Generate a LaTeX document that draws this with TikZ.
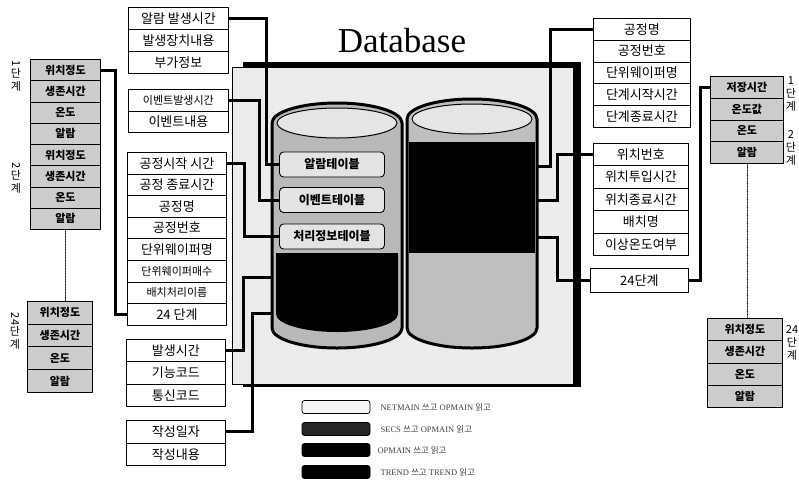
\documentclass[tikz,border=0pt]{standalone}
\usepackage{fontspec}
\setmainfont{Liberation Serif}
\newfontfamily\kr{Noto Sans CJK KR}
\usetikzlibrary{positioning, calc}

\begin{document}
\begin{tikzpicture}[x=1pt, y=-1pt, line cap=round, line join=round]

	\useasboundingbox (0,0) rectangle (799,485);

	\tikzset{
		field/.style={draw, fill=white, line width=0.8pt, inner sep=0pt, anchor=north west, font=\kr\fontsize{13}{13}\selectfont},
		stage/.style={field, fill=gray!40, font=\kr\bfseries\fontsize{11}{11}\selectfont},
		tbl/.style={draw, line width=0.9pt, rounded corners=4pt, fill=gray!22, minimum width=105pt, minimum height=25pt, inner sep=0pt, font=\kr\bfseries\fontsize{12}{12}\selectfont},
		link/.style={line width=3pt, line cap=butt, line join=miter},
		dots/.style={densely dotted, line width=0.6pt},
		steplabel/.style={align=center, inner sep=0pt, font=\kr\fontsize{11}{13}\selectfont},
		key/.style={draw, line width=0.8pt, rounded corners=2.5pt, minimum width=68pt, minimum height=13pt, inner sep=0pt},
		keytext/.style={anchor=west, inner sep=0pt, text=black!75, font=\fontsize{8.5}{8.5}\selectfont}
	}

	\newcommand{\smallkr}{\fontsize{11}{11}\selectfont}

	% one column of fields: name, left, top, width, row height, style, texts
	\newcommand{\fieldstack}[7]{
		\foreach \txt [count=\i] in {#7} {
			\node[#6, minimum width=#4pt, minimum height=#5pt] (#1-\i) at (#2, {#3+(\i-1)*#5}) {\txt};
		}
	}

	% database frame with its shadow
	\fill[black] (243,62) rectangle (581,387);
	\filldraw[fill=gray!15, draw=black, line width=0.6pt] (232,67) rectangle (573,384);
	\node[anchor=base, inner sep=0pt, font=\fontsize{35}{35}\selectfont] (title) at (402,52) {Database};

	% left cylinder
	\filldraw[fill=gray!55, line width=3pt] (272,123) -- (272,328)
		arc[start angle=180, end angle=360, x radius=65pt, y radius=20pt] -- (402,123)
		arc[start angle=0, end angle=180, x radius=65pt, y radius=20pt] -- cycle;
	\fill[black] (276,253) -- (276,314)
		arc[start angle=180, end angle=360, x radius=61pt, y radius=18pt] -- (398,253) -- cycle;
	\filldraw[fill=gray!20, line width=1pt] (337,123) ellipse[x radius=60pt, y radius=15pt];

	% right cylinder
	\filldraw[fill=gray!50, line width=3pt] (407,119) -- (407,328)
		arc[start angle=180, end angle=360, x radius=65pt, y radius=20pt] -- (537,119)
		arc[start angle=0, end angle=180, x radius=65pt, y radius=20pt] -- cycle;
	\fill[black] (409,142) rectangle (535,253);
	\filldraw[fill=gray!20, line width=1pt] (472,119) ellipse[x radius=60pt, y radius=15pt];

	\node[tbl] (tA) at (332,164.5) {알람테이블};
	\node[tbl] (tB) at (332,200) {이벤트테이블};
	\node[tbl] (tC) at (332,236.5) {처리정보테이블};

	\coordinate (LA) at (272,277);
	\coordinate (LB) at (272,313);
	\coordinate (RA) at (537,166);
	\coordinate (RB) at (537,200);
	\coordinate (RC) at (537,237);

	% field lists
	\fieldstack{alarm}{128}{7}{100}{22}{field}{알람 발생시간, 발생장치내용, 부가정보}
	\fieldstack{event}{128}{89}{100}{21.5}{field}{{\smallkr 이벤트발생시간}, 이벤트내용}
	\fieldstack{proc}{127}{152}{99}{21.6}{field}{공정시작 시간, 공정 종료시간, 공정명, 공정번호, 단위웨이퍼명, {\smallkr 단위웨이퍼매수}, {\smallkr 배치처리이름}, 24 단계}
	\fieldstack{comm}{126}{339}{99}{22.3}{field}{발생시간, 기능코드, 통신코드}
	\fieldstack{memo}{126}{420}{99}{22.5}{field}{작성일자, 작성내용}
	\fieldstack{procR}{593}{18}{97}{21.8}{field}{공정명, 공정번호, 단위웨이퍼명, 단계시작시간, 단계종료시간}
	\fieldstack{slot}{593}{143}{95}{22.4}{field}{위치번호, 위치투입시간, 위치종료시간, 배치명, 이상온도여부}
	\node[field, minimum width=98pt, minimum height=24pt] (stepR) at (590,268) {24단계};

	% stage records
	\fieldstack{stageL}{30}{59}{70}{21.25}{stage}{위치정도, 생존시간, 온도, 알람, 위치정도, 생존시간, 온도, 알람}
	\fieldstack{stageLx}{27}{301}{65}{22.7}{stage}{위치정도, 생존시간, 온도, 알람}
	\fieldstack{stageR}{710}{76}{73}{21.75}{stage}{저장시간, 온도값, 온도, 알람}
	\fieldstack{stageRx}{707}{318}{75}{22.25}{stage}{위치정도, 생존시간, 온도, 알람}

	\node[steplabel] (s1L) at (16,76) {\rotatebox{-90}{1}\\단\\계};
	\node[steplabel] (s2L) at (16,178) {\rotatebox{-90}{2}\\단\\계};
	\node[steplabel] (s24L) at (15,331) {\rotatebox{-90}{24}\\단\\계};
	\node[steplabel] (s1R) at (791,94) {1\\단\\계};
	\node[steplabel] (s2R) at (791,148) {2\\단\\계};
	\node[steplabel] (s24R) at (792,343) {24\\단\\계};

	\draw[dots] (stageL-8.south) -- (stageL-8.south |- stageLx-1.north);
	\draw[dots] (stageR-4.south) -- (stageR-4.south |- stageRx-1.north);

	% links into the tables
	\draw[link] (alarm-1.east) -- ++(38,0) |- (tA.west);
	\draw[link] (event-1.east) -- ++(31,0) |- (tB.west);
	\draw[link] (proc-1.east) -- ++(18,0) |- (tC.west);
	\draw[link] (comm-1.east) -- ++(18,0) |- (LA);
	\draw[link] (memo-1.east) -- ++(27,0) |- (LB);
	\draw[link] (stageL-1.east) -- ++(15,0) |- (proc-8.west);
	\draw[link] (procR-1.west) -- ++(-43,0) |- (RA);
	\draw[link] (slot-1.west) -- ++(-36,0) |- (RB);
	\draw[link] (stepR.west) -- ++(-33,0) |- (RC);
	\draw[link] (stepR.east) -- ++(12,0) |- (stageR-1.west);

	% legend
	\node[key, fill=gray!8] (keyA) at (336,407) {};
	\node[key, fill=black!85] (keyB) at (336,429) {};
	\node[key, fill=black] (keyC) at (336,450) {};
	\node[key, fill=black] (keyD) at (336,472) {};
	\node[keytext, right=10pt of keyA] (keyAt) {NETMAIN {\kr 쓰고} OPMAIN {\kr 읽고}};
	\node[keytext, right=10pt of keyB] (keyBt) {SECS {\kr 쓰고} OPMAIN {\kr 읽고}};
	\node[keytext, right=7pt of keyC] (keyCt) {OPMAIN {\kr 쓰고 읽고}};
	\node[keytext, right=10pt of keyD] (keyDt) {TREND {\kr 쓰고} TREND {\kr 읽고}};

\end{tikzpicture}
\end{document}
